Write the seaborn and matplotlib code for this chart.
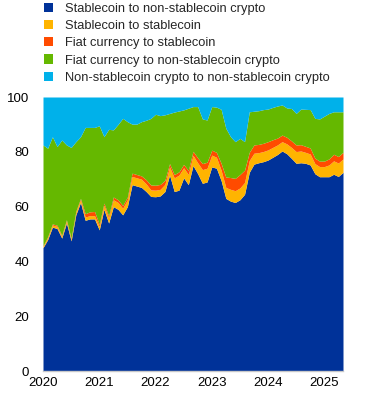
import numpy as np
import pandas as pd
import matplotlib
matplotlib.use("Agg")
import matplotlib.pyplot as plt
import seaborn as sns
from matplotlib.patches import Patch

# monthly shares (%), Jan 2020 - May 2025
months = pd.date_range("2020-01-01", "2025-05-01", freq="MS")

stable_to_nonstable = [
    45, 48, 52.5, 52, 48.5, 54, 47.5, 57, 61.5, 55, 55.5, 55.5, 51.5,
    59, 54, 60, 59, 57, 60, 68, 67.5, 67, 65.5, 63.7, 63.6, 63.9,
    65.5, 71.5, 65.5, 66, 70.5, 68, 75, 72, 68.5, 69, 74.5, 74, 69.5,
    63, 62, 61.5, 62.5, 64.5, 72.5, 75.5, 76, 76.4, 77, 78, 79, 80.3,
    79.3, 77.6, 75.8, 76, 75.8, 75.2, 72, 70.9, 70.9, 70.9, 71.8, 71, 72.5,
]
stable_to_stable = [
    0.5, 0.7, 0.8, 0.8, 0.7, 0.8, 0.7, 0.9, 1.0, 1.2, 1.2, 1.2, 1.2,
    1.5, 1.8, 2.5, 2.5, 2.4, 2.5, 3, 3, 3, 2.8, 2.4, 2.4, 2.4,
    2.6, 3, 5, 5.5, 3.7, 3.7, 3.7, 4, 5, 5, 4.3, 4, 3.8,
    4, 4.3, 4.3, 4.3, 4.3, 4.3, 4, 3.7, 3.7, 3.7, 3.6, 3.5, 3.4,
    3.6, 4, 4.3, 4.3, 4, 4, 3.7, 3.7, 3.7, 4.3, 4.9, 4.9, 4.9,
]
fiat_to_stable = [
    0.2, 0.3, 0.4, 0.4, 0.3, 0.4, 0.3, 0.4, 0.5, 1.2, 1.4, 1.5, 0.8,
    0.8, 0.8, 1.0, 1.0, 1.0, 1.0, 1.2, 1.2, 1.2, 1.5, 1.8, 1.8, 1.8,
    1.5, 1.2, 1.2, 1.2, 1.2, 1.5, 1.5, 1.8, 2.2, 2.2, 1.8, 1.8, 2.5,
    3.8, 4.3, 4.5, 4.9, 4.5, 3, 3, 3, 3, 3, 2.8, 2.5, 2.4,
    2.4, 2.4, 2.4, 2.3, 2.2, 2.2, 2, 2, 2, 2.2, 2.4, 2.4, 2.4,
]
fiat_to_nonstable = [
    36.8, 32.3, 31.8, 28.7, 34.8, 27.3, 33.1, 25.4, 22.5, 31.5, 30.8, 30.7, 36.0,
    24.2, 31.6, 24.5, 27.5, 31.8, 27.5, 17.9, 18.4, 19.8, 21.7, 24.3, 25.9, 25.1,
    23.9, 18.3, 22.8, 22.2, 19.9, 22.7, 16.3, 18.7, 16.3, 15.4, 15.9, 16.5, 19.7,
    17.8, 14.9, 13.4, 13.2, 10.4, 14.8, 12.3, 12.3, 12.3, 11.9, 11.8, 11.7, 11.0,
    10.7, 11.8, 11.5, 13.0, 13.5, 14.0, 14.5, 15.4, 16.4, 16.6, 15.5, 16.3, 14.8,
]
nonstable_to_nonstable = [
    17.5, 18.7, 14.5, 18.1, 15.7, 17.5, 18.4, 16.3, 14.5, 11.1, 11.1, 11.1, 10.5,
    14.5, 11.8, 12, 10, 7.8, 9, 9.9, 9.9, 9, 8.5, 7.8, 6.3, 6.8,
    6.5, 6, 5.5, 5.1, 4.7, 4.1, 3.5, 3.5, 8, 8.4, 3.5, 3.7, 4.5,
    11.4, 14.5, 16.3, 15.1, 16.3, 5.4, 5.2, 5, 4.6, 4.4, 3.8, 3.3, 2.9,
    4, 4.2, 6, 4.4, 4.5, 4.6, 7.8, 8, 7, 6, 5.4, 5.4, 5.4,
]

labels = [
    "Stablecoin to non-stablecoin crypto",
    "Stablecoin to stablecoin",
    "Fiat currency to stablecoin",
    "Fiat currency to non-stablecoin crypto",
    "Non-stablecoin crypto to non-stablecoin crypto",
]
colors = ["#003299", "#FFB400", "#FF4B00", "#65B800", "#00B1EA"]

df = pd.DataFrame({
    labels[0]: stable_to_nonstable,
    labels[1]: stable_to_stable,
    labels[2]: fiat_to_stable,
    labels[3]: fiat_to_nonstable,
    labels[4]: nonstable_to_nonstable,
}, index=months)

# decimal year for x positions
x = df.index.year + (df.index.month - 1) / 12

sns.set_style("white")
plt.rcParams["font.family"] = ["Liberation Sans", "DejaVu Sans"]

fig = plt.figure(figsize=(3.72, 3.99), dpi=100)
ax = fig.add_axes([43 / 372, 1 - 371 / 399, 300 / 372, 274 / 399])

ax.stackplot(x, [df[c].values for c in labels], colors=colors, linewidth=0)

ax.set_xlim(x[0], x[-1])
ax.set_ylim(0, 100)
ax.set_xticks([2020, 2021, 2022, 2023, 2024, 2025])
ax.set_xticklabels(["2020", "2021", "2022", "2023", "2024", "2025"])
ax.set_yticks([0, 20, 40, 60, 80, 100])
ax.tick_params(axis="both", length=0, labelsize=9.5, colors="black")
ax.tick_params(axis="x", pad=4)
ax.tick_params(axis="y", pad=10)

for s in ["top", "right", "left"]:
    ax.spines[s].set_visible(False)
ax.spines["bottom"].set_color("#c8c8c8")
ax.spines["bottom"].set_linewidth(1)

handles = [Patch(facecolor=c, edgecolor="none") for c in colors]
fig.legend(handles, labels, loc="upper left", bbox_to_anchor=(36 / 372, 1.013),
           frameon=False, fontsize=9.3, handlelength=0.72, handleheight=0.72,
           handletextpad=0.95, labelspacing=0.4, borderpad=0.1)

fig.savefig("out.png", dpi=100)
